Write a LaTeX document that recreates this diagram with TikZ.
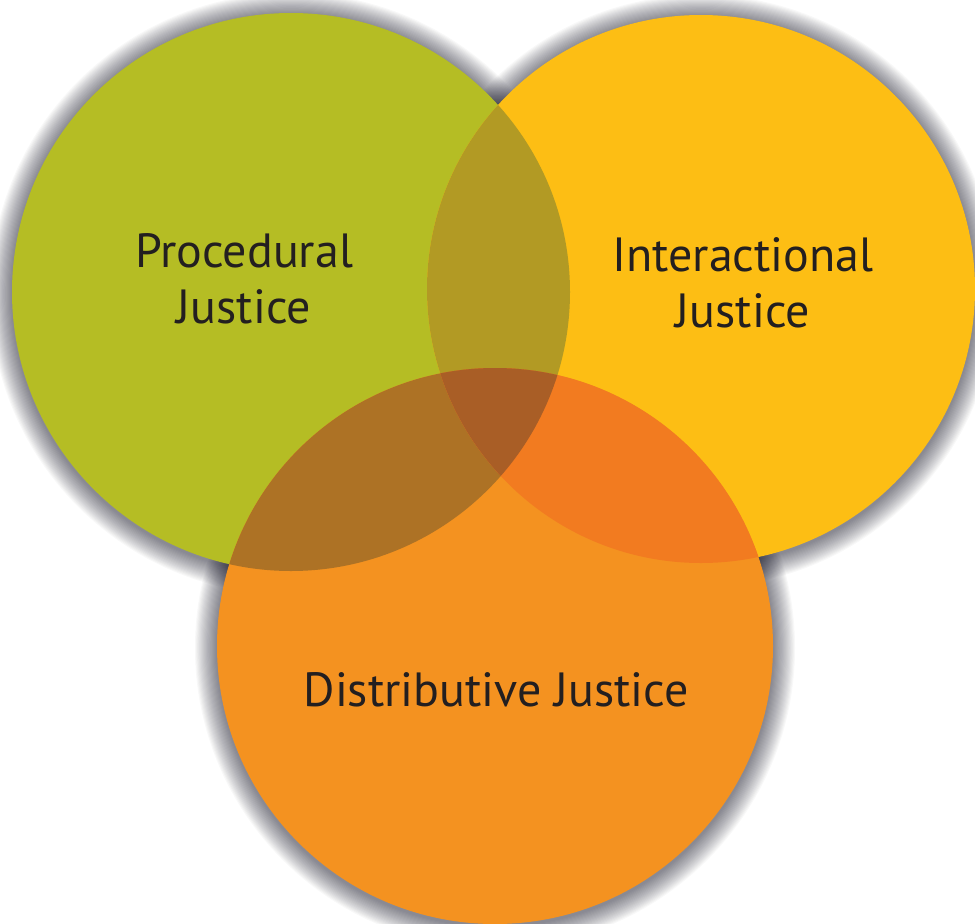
\documentclass[tikz,border=0pt]{standalone}
\usepackage{fontspec}
\setmainfont{PT Sans}
\definecolor{procgreen}{RGB}{181,189,36}
\definecolor{interyellow}{RGB}{253,190,20}
\definecolor{distorange}{RGB}{244,146,32}
\definecolor{piboth}{RGB}{178,154,36}
\definecolor{pdboth}{RGB}{173,114,37}
\definecolor{idboth}{RGB}{242,123,32}
\definecolor{allthree}{RGB}{169,94,38}
\definecolor{labeltext}{RGB}{35,31,32}
\tikzset{
	vlabel/.style={align=center, text=labeltext, inner sep=0pt},
	halo/.style={fill=black!92!blue, opacity=0.028}
}
\begin{document}
\begin{tikzpicture}[x=1pt, y=-1pt, font=\fontsize{48}{56}\selectfont]
	\def \rp{279};
	\def \ri{274};
	\def \rd{278};
	\useasboundingbox[fill=white] (0,0) rectangle (975,924);
	\coordinate (proc) at (291,292);
	\coordinate (inter) at (701,289);
	\coordinate (dist) at (495,646);
	\foreach \k in {1,...,20}{
		\fill[halo] ([yshift=-2pt]proc) circle (\rp+\k*1.1);
		\fill[halo] ([yshift=-2pt]inter) circle (\ri+\k*1.1);
		\fill[halo] ([yshift=-2pt]dist) circle (\rd+\k*1.1);
	}
	\fill[procgreen] (proc) circle (\rp);
	\fill[interyellow] (inter) circle (\ri);
	\fill[distorange] (dist) circle (\rd);
	\begin{scope}
		\clip (proc) circle (\rp);
		\fill[piboth] (inter) circle (\ri);
		\fill[pdboth] (dist) circle (\rd);
	\end{scope}
	\begin{scope}
		\clip (inter) circle (\ri);
		\fill[idboth] (dist) circle (\rd);
		\clip (proc) circle (\rp);
		\fill[allthree] (dist) circle (\rd);
	\end{scope}
	\node[vlabel] (procLabel) at (244,279) {Procedural\\Justice};
	\node[vlabel] (interLabel) at (743,283) {Interactional\\Justice};
	\node[vlabel] (distLabel) at (496,690) {Distributive Justice};
\end{tikzpicture}
\end{document}
